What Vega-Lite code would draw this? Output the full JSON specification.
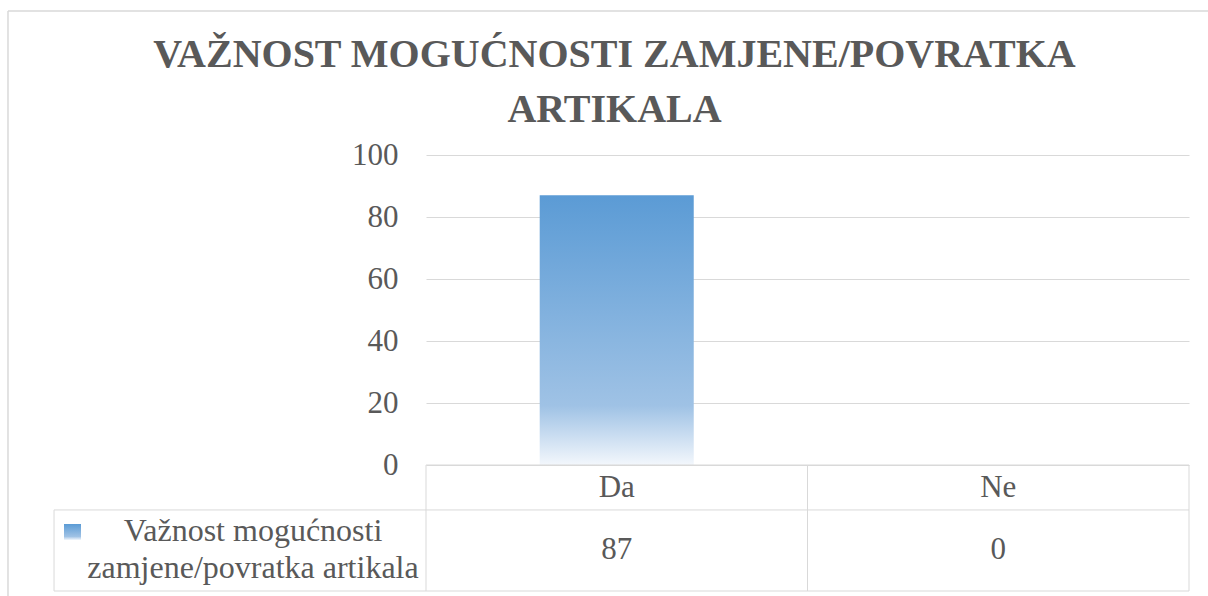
{
  "$schema": "https://vega.github.io/schema/vega-lite/v6.json",
  "width": 763,
  "height": 310,
  "autosize": {"type": "none"},
  "padding": {"left": 426, "top": 155, "right": 19, "bottom": 131},
  "background": "#ffffff",
  "title": {
    "text": ["VAŽNOST MOGUĆNOSTI ZAMJENE/POVRATKA", "ARTIKALA"],
    "font": "Liberation Serif",
    "fontSize": 40,
    "fontWeight": "bold",
    "color": "#595959",
    "lineHeight": 55,
    "anchor": "middle",
    "baseline": "alphabetic",
    "offset": -152,
    "dx": -193
  },
  "data": {
    "values": [
      {"odgovor": "Da", "vrijednost": 87},
      {"odgovor": "Ne", "vrijednost": 0}
    ]
  },
  "resolve": {"scale": {"x": "independent"}},
  "layer": [
    {
      "encoding": {
        "x": {"field": "odgovor", "type": "nominal", "sort": ["Da", "Ne"], "axis": null,
              "scale": {"paddingInner": 0.5963, "paddingOuter": 0.298}}
      },
      "layer": [
        {
          "mark": {"type": "bar", "fill": {"gradient": "linear", "x1": 0, "y1": 0, "x2": 0, "y2": 1,
            "stops": [{"offset": 0, "color": "#5b9bd5"}, {"offset": 0.78, "color": "#9fc2e5"}, {"offset": 1, "color": "#f3f7fc"}]}},
          "encoding": {
            "y": {"field": "vrijednost", "type": "quantitative", "title": null,
                  "scale": {"domain": [0, 100], "nice": false},
                  "axis": {"values": [0, 20, 40, 60, 80, 100], "grid": true, "gridColor": "#d9d9d9", "gridWidth": 1,
                           "domain": false, "ticks": false, "labelPadding": 28, "labelFontSize": 31,
                           "labelFont": "Liberation Serif", "labelColor": "#595959"}}
          }
        },
        {
          "mark": {"type": "text", "font": "Liberation Serif", "fontSize": 31, "color": "#595959", "baseline": "middle"},
          "encoding": {
            "y": {"datum": -7.42, "type": "quantitative"},
            "text": {"field": "odgovor"}
          }
        },
        {
          "mark": {"type": "text", "font": "Liberation Serif", "fontSize": 31, "color": "#595959", "baseline": "middle"},
          "encoding": {
            "y": {"datum": -27.58, "type": "quantitative"},
            "text": {"field": "vrijednost", "type": "quantitative"}
          }
        }
      ]
    },
    {
      "data": {"values": [{}]},
      "encoding": {},
      "layer": [
        {"mark": {"type": "rule", "color": "#d9d9d9", "strokeWidth": 1},
         "encoding": {"x": {"datum": 0, "type": "quantitative", "scale": {"domain": [0, 2], "nice": false, "zero": false}, "axis": null},
                      "x2": {"datum": 2}, "y": {"datum": 0, "type": "quantitative"}}},
        {"mark": {"type": "rule", "color": "#d9d9d9", "strokeWidth": 1},
         "encoding": {"x": {"datum": -0.975, "type": "quantitative", "axis": null}, "x2": {"datum": 2},
                      "y": {"datum": -14.5, "type": "quantitative"}}},
        {"mark": {"type": "rule", "color": "#d9d9d9", "strokeWidth": 1},
         "encoding": {"x": {"datum": -0.975, "type": "quantitative", "axis": null}, "x2": {"datum": 2},
                      "y": {"datum": -40.65, "type": "quantitative"}}},
        {"mark": {"type": "rule", "color": "#d9d9d9", "strokeWidth": 1},
         "encoding": {"x": {"datum": -0.975, "type": "quantitative", "axis": null},
                      "y": {"datum": -14.5, "type": "quantitative"}, "y2": {"datum": -40.65}}},
        {"mark": {"type": "rule", "color": "#d9d9d9", "strokeWidth": 1},
         "encoding": {"x": {"datum": 0, "type": "quantitative", "axis": null},
                      "y": {"datum": 0, "type": "quantitative"}, "y2": {"datum": -40.65}}},
        {"mark": {"type": "rule", "color": "#d9d9d9", "strokeWidth": 1},
         "encoding": {"x": {"datum": 1, "type": "quantitative", "axis": null},
                      "y": {"datum": 0, "type": "quantitative"}, "y2": {"datum": -40.65}}},
        {"mark": {"type": "rule", "color": "#d9d9d9", "strokeWidth": 1},
         "encoding": {"x": {"datum": 2, "type": "quantitative", "axis": null},
                      "y": {"datum": 0, "type": "quantitative"}, "y2": {"datum": -40.65}}},
        {"mark": {"type": "rule", "color": "#d9d9d9", "strokeWidth": 1.5},
         "encoding": {"x": {"datum": -1.0957, "type": "quantitative", "axis": null},
                      "y": {"datum": 146.45, "type": "quantitative"}, "y2": {"datum": -43}}},
        {"mark": {"type": "rule", "color": "#d9d9d9", "strokeWidth": 1.5},
         "encoding": {"x": {"datum": -1.0957, "type": "quantitative", "axis": null}, "x2": {"datum": 2.06},
                      "y": {"datum": 146.45, "type": "quantitative"}}},
        {"mark": {"type": "rect", "fill": {"gradient": "linear", "x1": 0, "y1": 0, "x2": 0, "y2": 1,
            "stops": [{"offset": 0, "color": "#5b9bd5"}, {"offset": 0.78, "color": "#9fc2e5"}, {"offset": 1, "color": "#f3f7fc"}]}},
         "encoding": {"x": {"datum": -0.9489, "type": "quantitative", "axis": null}, "x2": {"datum": -0.9043},
                      "y": {"datum": -19.03, "type": "quantitative"}, "y2": {"datum": -24.19}}},
        {"mark": {"type": "text", "font": "Liberation Serif", "fontSize": 32, "color": "#595959", "baseline": "middle",
                  "align": "center", "lineHeight": 37, "text": ["Važnost mogućnosti", "zamjene/povratka artikala"]},
         "encoding": {"x": {"datum": -0.4535, "type": "quantitative", "axis": null},
                      "y": {"datum": -21.3, "type": "quantitative"}}}
      ]
    }
  ],
  "config": {"view": {"stroke": null}}
}
